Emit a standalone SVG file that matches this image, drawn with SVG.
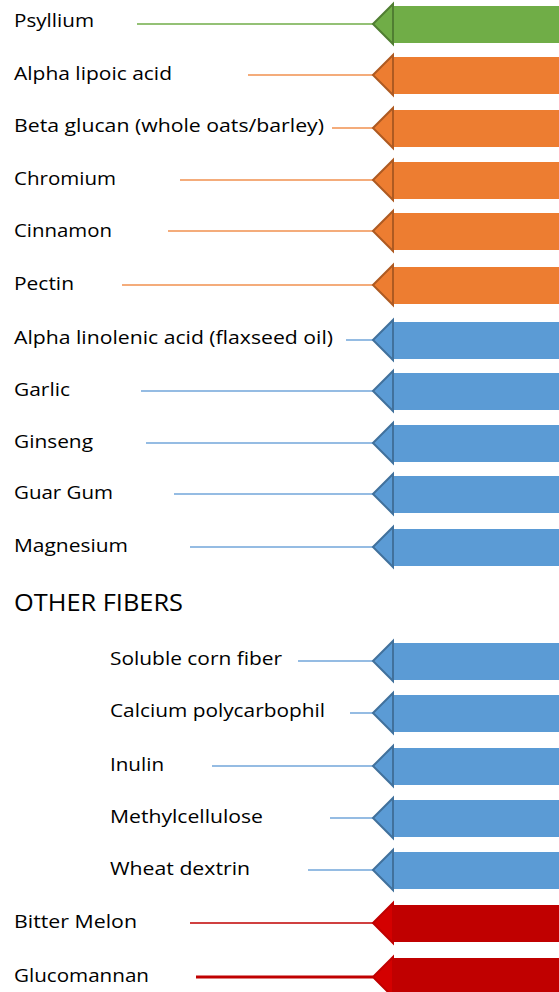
<svg xmlns="http://www.w3.org/2000/svg" width="559" height="992" viewBox="0 0 559 992">
<defs>
<style>
text{font-family:"Open Sans","Liberation Sans",sans-serif;font-size:19px;fill:#000}
.h{font-size:24px}
.g .bar,.g .tri{fill:#70AD47}.g .tri{stroke:#507E32}
.o .bar,.o .tri{fill:#ED7D31}.o .tri{stroke:#AE5A21}
.b .bar,.b .tri{fill:#5B9BD5}.b .tri{stroke:#41719C}
.r .bar{fill:#C00000}.r .tri{fill:#D40000;stroke:#C00000}
.tri{stroke-width:2;stroke-linejoin:miter}
.lg{stroke:#70AD47;stroke-width:1.5}
.lo{stroke:#F0914F;stroke-width:1.5}
.lb{stroke:#72A6DA;stroke-width:1.5}
.lr{stroke:#C00000;stroke-width:1.3}
.lr2{stroke:#C00000;stroke-width:3}
</style>
</defs>
<g id="connectors">
<line class="lg" x1="137" y1="24" x2="373" y2="24"/>
<line class="lo" x1="248" y1="75" x2="373" y2="75"/>
<line class="lo" x1="332" y1="128" x2="373" y2="128"/>
<line class="lo" x1="180" y1="180" x2="373" y2="180"/>
<line class="lo" x1="168" y1="231" x2="373" y2="231"/>
<line class="lo" x1="122" y1="285" x2="373" y2="285"/>
<line class="lb" x1="346" y1="340" x2="373" y2="340"/>
<line class="lb" x1="141" y1="391" x2="373" y2="391"/>
<line class="lb" x1="146" y1="443" x2="373" y2="443"/>
<line class="lb" x1="174" y1="494" x2="373" y2="494"/>
<line class="lb" x1="190" y1="547" x2="373" y2="547"/>
<line class="lb" x1="298" y1="661" x2="373" y2="661"/>
<line class="lb" x1="350" y1="713" x2="373" y2="713"/>
<line class="lb" x1="212" y1="766" x2="373" y2="766"/>
<line class="lb" x1="330" y1="818" x2="373" y2="818"/>
<line class="lb" x1="308" y1="870" x2="373" y2="870"/>
<line class="lr" x1="190" y1="923" x2="373" y2="923"/>
<line class="lr2" x1="196" y1="977" x2="373" y2="977"/>
</g>
<g id="psyllium" class="g"><text x="14" y="27" textLength="80" lengthAdjust="spacingAndGlyphs">Psyllium</text><rect class="bar" x="394" y="6" width="165" height="37"/><polygon class="tri" points="373,24 393,4 393,44"/></g>
<g id="alpha-lipoic" class="o"><text x="14" y="80" textLength="158" lengthAdjust="spacingAndGlyphs">Alpha lipoic acid</text><rect class="bar" x="394" y="57" width="165" height="37"/><polygon class="tri" points="373,75 393,55 393,95"/></g>
<g id="beta-glucan" class="o"><text x="14" y="132" textLength="310" lengthAdjust="spacingAndGlyphs">Beta glucan (whole oats/barley)</text><rect class="bar" x="394" y="110" width="165" height="37"/><polygon class="tri" points="373,128 393,108 393,148"/></g>
<g id="chromium" class="o"><text x="14" y="185" textLength="102" lengthAdjust="spacingAndGlyphs">Chromium</text><rect class="bar" x="394" y="162" width="165" height="37"/><polygon class="tri" points="373,180 393,160 393,200"/></g>
<g id="cinnamon" class="o"><text x="14" y="237" textLength="98" lengthAdjust="spacingAndGlyphs">Cinnamon</text><rect class="bar" x="394" y="213" width="165" height="37"/><polygon class="tri" points="373,231 393,211 393,251"/></g>
<g id="pectin" class="o"><text x="14" y="290" textLength="60" lengthAdjust="spacingAndGlyphs">Pectin</text><rect class="bar" x="394" y="267" width="165" height="37"/><polygon class="tri" points="373,285 393,265 393,305"/></g>
<g id="alpha-linolenic" class="b"><text x="14" y="344" textLength="319" lengthAdjust="spacingAndGlyphs">Alpha linolenic acid (flaxseed oil)</text><rect class="bar" x="394" y="322" width="165" height="37"/><polygon class="tri" points="373,340 393,320 393,360"/></g>
<g id="garlic" class="b"><text x="14" y="396" textLength="56" lengthAdjust="spacingAndGlyphs">Garlic</text><rect class="bar" x="394" y="373" width="165" height="37"/><polygon class="tri" points="373,391 393,371 393,411"/></g>
<g id="ginseng" class="b"><text x="14" y="448" textLength="79" lengthAdjust="spacingAndGlyphs">Ginseng</text><rect class="bar" x="394" y="425" width="165" height="37"/><polygon class="tri" points="373,443 393,423 393,463"/></g>
<g id="guar-gum" class="b"><text x="14" y="499" textLength="99" lengthAdjust="spacingAndGlyphs">Guar Gum</text><rect class="bar" x="394" y="476" width="165" height="37"/><polygon class="tri" points="373,494 393,474 393,514"/></g>
<g id="magnesium" class="b"><text x="14" y="552" textLength="114" lengthAdjust="spacingAndGlyphs">Magnesium</text><rect class="bar" x="394" y="529" width="165" height="37"/><polygon class="tri" points="373,547 393,527 393,567"/></g>
<g id="other-fibers"><text class="h" x="14" y="611" textLength="169" lengthAdjust="spacingAndGlyphs">OTHER FIBERS</text></g>
<g id="soluble-corn" class="b"><text x="110" y="665" textLength="172" lengthAdjust="spacingAndGlyphs">Soluble corn fiber</text><rect class="bar" x="394" y="643" width="165" height="37"/><polygon class="tri" points="373,661 393,641 393,681"/></g>
<g id="calcium" class="b"><text x="110" y="717" textLength="215" lengthAdjust="spacingAndGlyphs">Calcium polycarbophil</text><rect class="bar" x="394" y="695" width="165" height="37"/><polygon class="tri" points="373,713 393,693 393,733"/></g>
<g id="inulin" class="b"><text x="110" y="771" textLength="54" lengthAdjust="spacingAndGlyphs">Inulin</text><rect class="bar" x="394" y="748" width="165" height="37"/><polygon class="tri" points="373,766 393,746 393,786"/></g>
<g id="methylcellulose" class="b"><text x="110" y="823" textLength="153" lengthAdjust="spacingAndGlyphs">Methylcellulose</text><rect class="bar" x="394" y="800" width="165" height="37"/><polygon class="tri" points="373,818 393,798 393,838"/></g>
<g id="wheat-dextrin" class="b"><text x="110" y="875" textLength="140" lengthAdjust="spacingAndGlyphs">Wheat dextrin</text><rect class="bar" x="394" y="852" width="165" height="37"/><polygon class="tri" points="373,870 393,850 393,890"/></g>
<g id="bitter-melon" class="r"><text x="14" y="928" textLength="123" lengthAdjust="spacingAndGlyphs">Bitter Melon</text><rect class="bar" x="394" y="905" width="165" height="37"/><polygon class="tri" points="373,923 393,903 393,943"/></g>
<g id="glucomannan" class="r"><text x="14" y="982" textLength="135" lengthAdjust="spacingAndGlyphs">Glucomannan</text><rect class="bar" x="394" y="958" width="165" height="37"/><polygon class="tri" points="373,977 393,957 393,997"/></g>
</svg>
